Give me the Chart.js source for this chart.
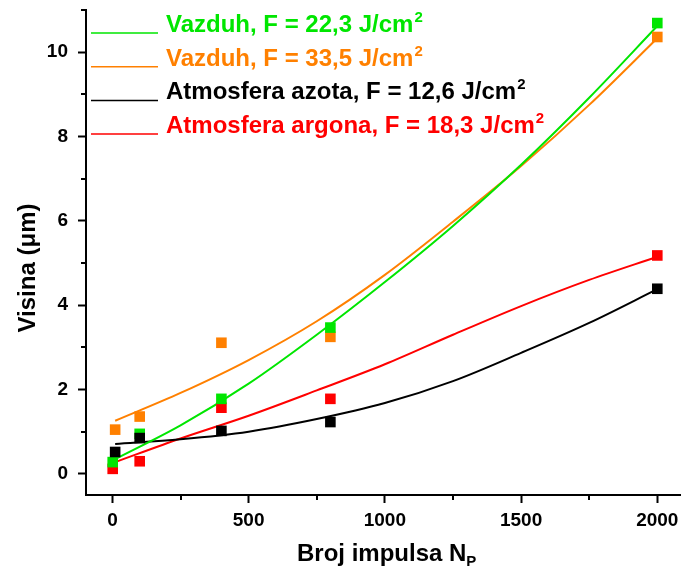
<!DOCTYPE html>
<html>
<head>
<meta charset="utf-8">
<script src="https://cdn.jsdelivr.net/npm/chart.js@4.4.0/dist/chart.umd.min.js"></script>
<style>
body { margin: 0; background: #fff; }
#okvir { width: 681px; height: 576px; position: relative; }
</style>
</head>
<body>
<div id="okvir"><canvas id="grafico-visina"></canvas></div>
<script>
// izmjerene tacke
var nZeleno = [1, 100, 400, 800, 2000];
var vZeleno = [0.28, 0.95, 1.78, 3.47, 10.69];
var nNarandzasto = [10, 100, 400, 800, 2000];
var vNarandzasto = [1.05, 1.36, 3.11, 3.25, 10.36];
var nCrno = [10, 100, 400, 800, 2000];
var vCrno = [0.52, 0.85, 1.02, 1.23, 4.39];
var nCrveno = [1, 100, 400, 800, 2000];
var vCrveno = [0.12, 0.30, 1.57, 1.78, 5.18];

// fit krive (ocitane sa slike)
var nFit = [10, 250, 500, 750, 1000, 1250, 1500, 1750, 2000];
var fitZeleno = [0.35, 1.15, 2.14, 3.3, 4.55, 5.88, 7.33, 8.92, 10.62];
var fitNarandzasto = [1.26, 1.92, 2.7, 3.62, 4.72, 5.98, 7.3, 8.75, 10.33];
var fitCrno = [0.71, 0.82, 1.0, 1.3, 1.68, 2.2, 2.87, 3.58, 4.38];
var fitCrveno = [0.28, 0.84, 1.38, 1.98, 2.6, 3.3, 3.98, 4.6, 5.15];

var legendaTekst = ["Vazduh, F = 22,3 J/cm", "Vazduh, F = 33,5 J/cm", "Atmosfera azota, F = 12,6 J/cm", "Atmosfera argona, F = 18,3 J/cm"];
var xTicks = [0, 250, 500, 750, 1000, 1250, 1500, 1750, 2000];
var yTicks = [0, 1, 2, 3, 4, 5, 6, 7, 8, 9, 10, 11];

var font = "'Liberation Sans', Arial, sans-serif";
var zelena = '#00e600', narandzasta = '#ff8000', crvena = '#ff0000', crna = '#000000';
var boje = [zelena, narandzasta, crna, crvena];

function tacke(xs, ys) {
    return xs.map(function (x, i) { return { x: x, y: ys[i] }; });
}

function tackeSet(xs, ys, boja) {
    return {
        type: 'scatter',
        data: tacke(xs, ys),
        backgroundColor: boja,
        borderColor: boja,
        borderWidth: 0,
        pointStyle: 'rect',
        pointRadius: 7.5,
        pointHoverRadius: 7.5
    };
}

function fitSet(ys, boja) {
    return {
        type: 'line',
        data: tacke(nFit, ys),
        borderColor: boja,
        borderWidth: 2,
        pointRadius: 0,
        fill: false,
        cubicInterpolationMode: 'monotone'
    };
}

function bezPadinga(s) {
    s.paddingTop = 0;
    s.paddingBottom = 0;
    s.paddingLeft = 0;
    s.paddingRight = 0;
}

var dodaci = {
    id: 'dodaci',
    afterDraw: function (chart) {
        var ctx = chart.ctx;
        var xs = chart.scales.x, ys = chart.scales.y;
        ctx.save();
        // sporedne crtice
        ctx.strokeStyle = '#000';
        ctx.lineWidth = 2;
        ctx.beginPath();
        xTicks.forEach(function (v) {
            if (v % 500 !== 0) {
                var px = Math.round(xs.getPixelForValue(v));
                ctx.moveTo(px, xs.top); ctx.lineTo(px, xs.top + 5);
            }
        });
        yTicks.forEach(function (v) {
            if (v % 2 !== 0) {
                var py = Math.round(ys.getPixelForValue(v));
                ctx.moveTo(ys.right, py); ctx.lineTo(ys.right - 5, py);
            }
        });
        ctx.stroke();

        // legenda
        for (var i = 0; i < legendaTekst.length; i++) {
            var y = 33 + i * 33.7;
            ctx.strokeStyle = boje[i];
            ctx.lineWidth = 1.5;
            ctx.beginPath();
            ctx.moveTo(91, y); ctx.lineTo(158, y);
            ctx.stroke();
            ctx.fillStyle = boje[i];
            ctx.textBaseline = 'alphabetic';
            ctx.textAlign = 'left';
            ctx.font = 'bold 24px ' + font;
            ctx.fillText(legendaTekst[i], 166, y - 1);
            var w = ctx.measureText(legendaTekst[i]).width;
            ctx.font = 'bold 15px ' + font;
            ctx.fillText('2', 166 + w + 1, y - 11);
        }

        // naziv x ose
        ctx.fillStyle = '#000';
        ctx.font = 'bold 24px ' + font;
        var t = 'Broj impulsa N';
        var tw = ctx.measureText(t).width;
        var x0 = 297;
        ctx.fillText(t, x0, 561);
        ctx.font = 'bold 15px ' + font;
        ctx.fillText('P', x0 + tw, 566);

        // naziv y ose
        ctx.translate(35, 268);
        ctx.rotate(-Math.PI / 2);
        ctx.font = 'bold 24px ' + font;
        ctx.textAlign = 'center';
        ctx.fillText('Visina (\u03bcm)', 0, 0);
        ctx.restore();
    }
};

const ctx = document.getElementById('grafico-visina');
var grafik = new Chart(ctx, {
    data: {
        datasets: [
            tackeSet(nCrno, vCrno, crna),
            tackeSet(nZeleno, vZeleno, zelena),
            tackeSet(nNarandzasto, vNarandzasto, narandzasta),
            tackeSet(nCrveno, vCrveno, crvena),
            fitSet(fitZeleno, zelena),
            fitSet(fitNarandzasto, narandzasta),
            fitSet(fitCrno, crna),
            fitSet(fitCrveno, crvena)
        ]
    },
    options: {
        responsive: true,
        maintainAspectRatio: false,
        animation: false,
        layout: { autoPadding: false, padding: { top: 10, left: 0, right: 0, bottom: 0 } },
        plugins: {
            legend: { display: false },
            tooltip: { enabled: false }
        },
        scales: {
            x: {
                type: 'linear',
                min: -97,
                max: 2087,
                afterBuildTicks: function (s) { s.ticks = xTicks.map(function (v) { return { value: v }; }); },
                afterFit: function (s) { s.height = 81; bezPadinga(s); },
                border: { display: true, color: '#000', width: 2 },
                grid: {
                    drawOnChartArea: false,
                    tickLength: 8,
                    tickWidth: 2,
                    tickColor: function (c) { return c.tick && c.tick.value % 500 === 0 ? '#000' : 'rgba(0,0,0,0)'; }
                },
                ticks: {
                    color: '#000',
                    padding: 6,
                    maxRotation: 0,
                    autoSkip: false,
                    font: { family: font, size: 19, weight: 'bold' },
                    callback: function (v) { return v % 500 === 0 ? v : ''; }
                }
            },
            y: {
                type: 'linear',
                min: -0.5,
                max: 11,
                afterBuildTicks: function (s) { s.ticks = yTicks.map(function (v) { return { value: v }; }); },
                afterFit: function (s) { s.width = 86; bezPadinga(s); },
                border: { display: true, color: '#000', width: 2 },
                grid: {
                    drawOnChartArea: false,
                    tickLength: 8,
                    tickWidth: 2,
                    tickColor: function (c) { return c.tick && c.tick.value % 2 === 0 ? '#000' : 'rgba(0,0,0,0)'; }
                },
                ticks: {
                    color: '#000',
                    padding: 10,
                    autoSkip: false,
                    font: { family: font, size: 19, weight: 'bold' },
                    callback: function (v) { return v % 2 === 0 ? v : ''; }
                }
            }
        }
    },
    plugins: [dodaci]
});
</script>
</body>
</html>
